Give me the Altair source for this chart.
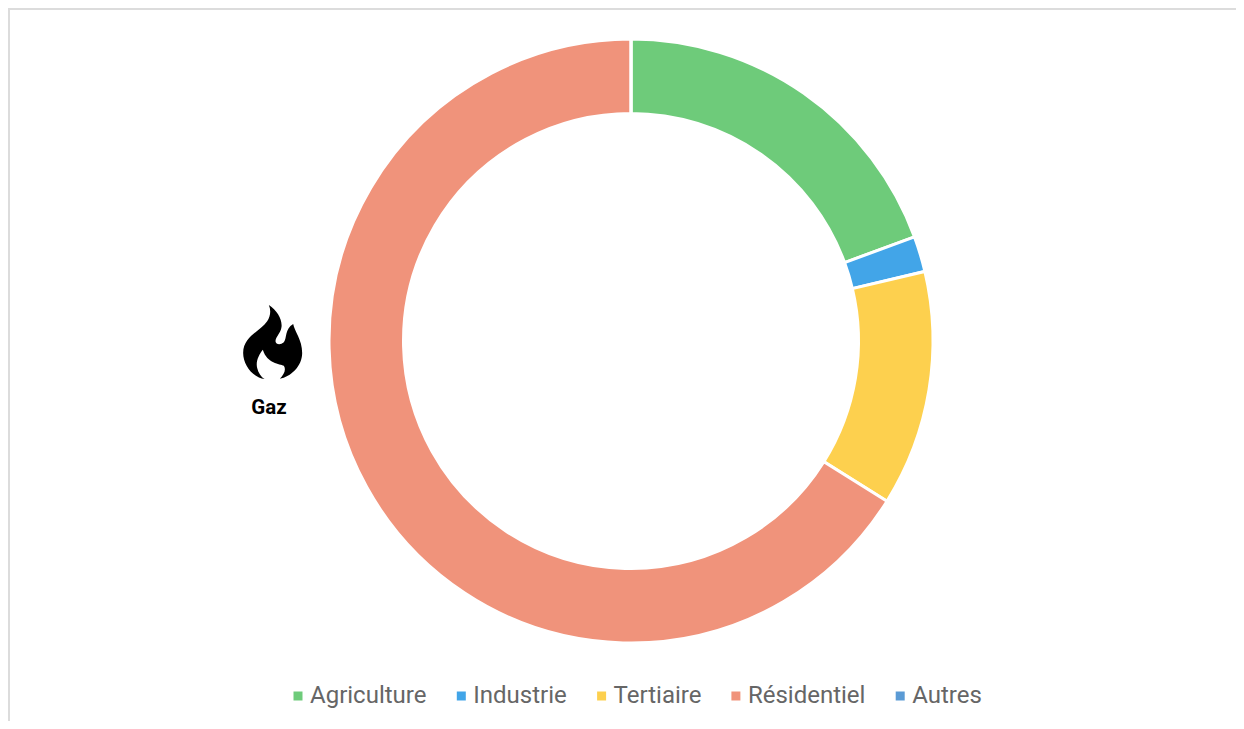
import altair as alt
import pandas as pd

categories = ["Agriculture", "Industrie", "Tertiaire", "Résidentiel", "Autres"]
shares = [19.4, 1.9, 12.6, 66.1, 0.0]
colors = ["#6ECB7A", "#42A5E8", "#FDD04E", "#F0937B", "#5B9BD5"]
icon_label = ["Gaz"]

# Flame outline, drawn on a 222-unit box and normalised to the -1..1 box for custom symbols.
def p(x, y):
    return f"{(x - 156) / 111:.3f},{(y - 157) / 111:.3f}"

flame = (
    f"M{p(145, 46)}"
    f"C{p(170, 62)} {p(186, 90)} {p(183, 112)}"
    f"C{p(181, 130)} {p(165, 142)} {p(165, 155)}"
    f"C{p(166, 165)} {p(180, 167)} {p(190, 158)}"
    f"C{p(200, 146)} {p(192, 118)} {p(218, 103)}"
    f"C{p(222, 125)} {p(245, 150)} {p(245, 190)}"
    f"C{p(245, 230)} {p(210, 262)} {p(178, 267)}"
    f"C{p(190, 255)} {p(198, 240)} {p(190, 228)}"
    f"C{p(178, 222)} {p(140, 222)} {p(127, 180)}"
    f"C{p(115, 195)} {p(105, 215)} {p(110, 235)}"
    f"C{p(113, 250)} {p(122, 262)} {p(132, 268)}"
    f"C{p(95, 262)} {p(68, 225)} {p(68, 190)}"
    f"C{p(68, 140)} {p(120, 125)} {p(140, 95)}"
    f"C{p(150, 80)} {p(152, 62)} {p(145, 46)}Z"
)

df = pd.DataFrame({"categorie": categories, "part": shares, "rang": range(len(categories))})

ring = alt.Chart(df).mark_arc(radius=302, radius2=227.5, stroke="white", strokeWidth=3).encode(
    x=alt.value(623),
    y=alt.value(333),
    theta=alt.Theta("part:Q", stack=True),
    order=alt.Order("rang:Q"),
    color=alt.Color(
        "categorie:N",
        sort=categories,
        scale=alt.Scale(domain=categories, range=colors),
        legend=alt.Legend(
            title=None,
            orient="none",
            legendX=278,
            legendY=676,
            direction="horizontal",
            columns=5,
            gridAlign="each",
            columnPadding=22.3,
            symbolType="square",
            symbolSize=81,
            symbolStrokeWidth=0,
            labelFont="Roboto",
            labelFontSize=24,
            labelColor="#666666",
            labelOffset=0,
        ),
    ),
)

icon = alt.Chart(pd.DataFrame({"k": icon_label})).mark_point(
    shape=flame, size=222 * 222 / 9, filled=True, color="black", opacity=1, strokeWidth=0
).encode(x=alt.value(264.5), y=alt.value(334))

label = alt.Chart(pd.DataFrame({"k": icon_label})).mark_text(
    font="Roboto", fontSize=20.5, fontWeight="bold", color="black", align="center", baseline="middle"
).encode(x=alt.value(261), y=alt.value(400), text="k:N")

top = alt.Chart(pd.DataFrame({"k": icon_label})).mark_rule(color="#DCDCDC", strokeWidth=2).encode(
    x=alt.value(0), x2=alt.value(1228), y=alt.value(1)
)
left = alt.Chart(pd.DataFrame({"k": icon_label})).mark_rule(color="#DCDCDC", strokeWidth=2).encode(
    x=alt.value(1), y=alt.value(0), y2=alt.value(713)
)

chart = (
    alt.layer(top, left, ring, icon, label)
    .properties(width=1228, height=713, padding=0, autosize=alt.AutoSizeParams(type="none"), background="white")
    .configure_view(stroke=None)
)

chart.save("out.html", embed_options={"renderer": "svg", "actions": False})
